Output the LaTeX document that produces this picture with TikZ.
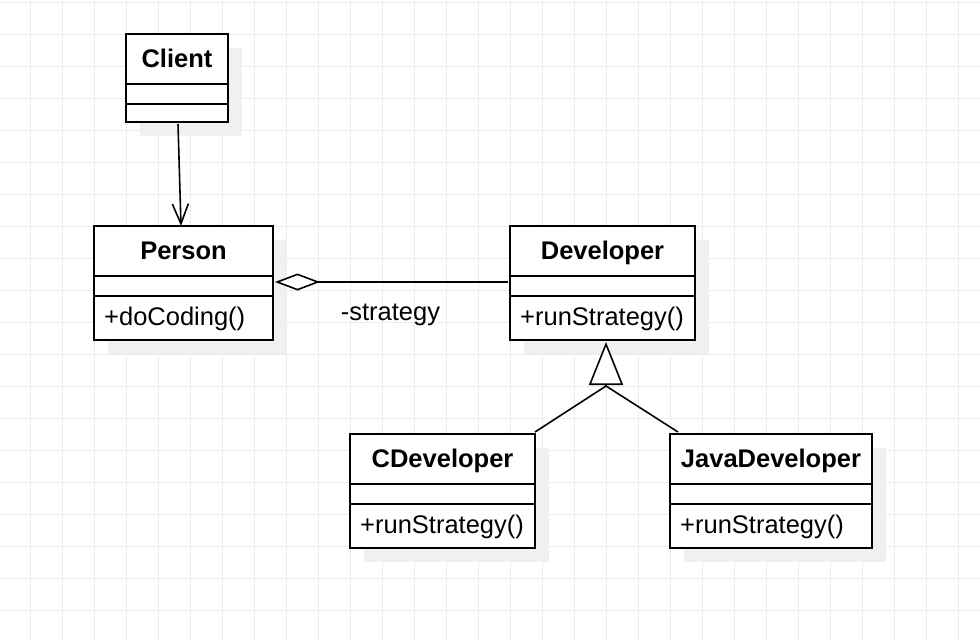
\documentclass[tikz,border=0pt]{standalone}
\usepackage{fontspec}
\setmainfont{Liberation Sans}
\usetikzlibrary{arrows.meta,calc}
\definecolor{gridgray}{RGB}{236,236,236}
\definecolor{shadowgray}{RGB}{240,240,240}
\tikzset{
  cls/.style={draw=black, line width=2pt, fill=white, inner sep=0pt, outer sep=0pt, anchor=north west},
  divider/.style={draw=black, line width=2pt},
  title/.style={font=\bfseries\fontsize{25.5}{30}\selectfont, inner sep=0pt, anchor=base},
  member/.style={font=\fontsize{25.5}{30}\selectfont, anchor=base west, inner sep=0pt},
  conn/.style={draw=black, line width=1.6pt},
}
% name, x, y, width, method-compartment height, title, method
\newcommand\umlclass[7]{%
  \fill[shadowgray] (#2+14,#3+14) rectangle ++(#4,70+#5);
  \node[cls, minimum width=#4pt, minimum height=70pt+#5pt] (#1) at (#2,#3) {};
  \draw[divider] (#2,#3+50) -- ++(#4,0);
  \draw[divider] (#2,#3+70) -- ++(#4,0);
  \node[title] (#1-t) at (#2+#4/2,#3+33.5) {#6};
  \node[member] (#1-m) at (#2+10,#3+99) {#7};
}
\begin{document}
\begin{tikzpicture}[x=1pt,y=-1pt]
  \useasboundingbox (0,0) rectangle (980,640);
  \fill[white] (0,0) rectangle (980,640);
  % grid
  \foreach \k in {0,...,30} {
    \draw[gridgray, line width=1pt] (30.3+32*\k,0) -- (30.3+32*\k,640);
  }
  \foreach \k in {0,...,19} {
    \draw[gridgray, line width=1pt] (0,2.3+32*\k) -- (980,2.3+32*\k);
  }
  % classes
  \umlclass{client}{126}{34}{102}{18}{Client}{}
  \umlclass{person}{94}{226}{179}{44}{Person}{+doCoding()}
  \umlclass{developer}{510}{226}{185}{44}{Developer}{+runStrategy()}
  \umlclass{cdeveloper}{350}{434}{185}{44}{CDeveloper}{+runStrategy()}
  \umlclass{javadeveloper}{670}{434}{202}{44}{JavaDeveloper}{+runStrategy()}
  % association Client -> Person
  \draw[conn, -{Straight Barb[length=20pt,width=16pt,line width=1.6pt]}]
    ([xshift=1pt,yshift=-2pt]client.south) -- ([xshift=-2.5pt]person.north);
  % aggregation Developer -> Person
  \draw[conn, -{Diamond[open,fill=white,length=45pt,width=17pt,line width=1.6pt]}]
    ([xshift=-2pt,yshift=1pt]developer.west) -- ([xshift=2pt,yshift=1pt]person.east);
  \node[font=\fontsize{25.5}{30}\selectfont, inner sep=0pt, anchor=base] (strategy) at (390.5,320) {-strategy};
  % generalisation
  \coordinate (devtip) at (606,342);
  \coordinate (junc) at (606,386);
  \draw[conn, -{Triangle[open,fill=white,length=43pt,width=34pt,line width=1.6pt]}]
    (junc) -- (devtip);
  \draw[conn] ([yshift=2pt]cdeveloper.north east) -- (junc);
  \draw[conn] ([xshift=8pt,yshift=2pt]javadeveloper.north west) -- (junc);
\end{tikzpicture}
\end{document}
